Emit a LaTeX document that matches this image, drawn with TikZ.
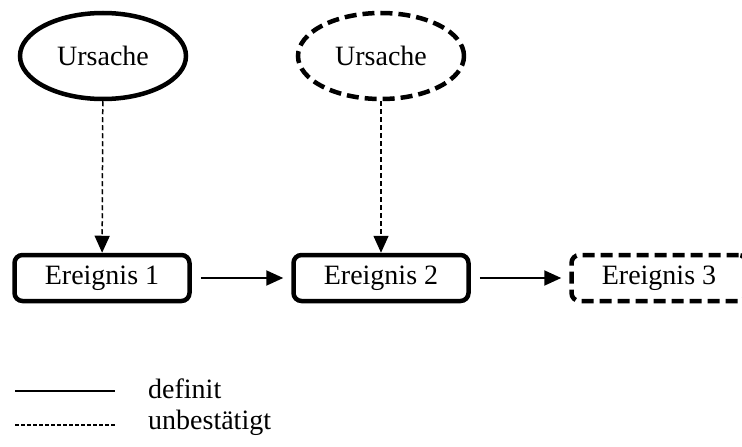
\documentclass[tikz,border=0pt]{standalone}
\usepackage{fontspec}
\setmainfont{Liberation Serif}
\usetikzlibrary{arrows.meta,shapes.geometric}
\begin{document}
\begin{tikzpicture}[x=1pt,y=-1pt,
  font=\fontsize{28}{31}\selectfont,
  cause/.style={ellipse,draw,line width=4.5pt,minimum width=166pt,minimum height=86pt,inner sep=0pt},
  event/.style={rectangle,rounded corners=8pt,draw,line width=4.5pt,minimum width=175pt,minimum height=46pt,inner sep=0pt},
  unsure/.style={dash pattern=on 12pt off 6pt},
  solidarrow/.style={-{Triangle[length=17pt,width=15pt]},line width=2pt},
  dasharrow/.style={-{Triangle[length=17pt,width=15pt]},line width=1.5pt,dash pattern=on 5pt off 3pt}
]
\useasboundingbox (0,0) rectangle (742,447);
\node[cause] (u1) at (103,56) {Ursache};
\node[cause,unsure] (u2) at (381,56) {Ursache};
\node[event] (e1) at (102,278) {Ereignis 1};
\node[event] (e2) at (381,278) {Ereignis 2};
\node[event,unsure] (e3) at (659,278) {Ereignis 3};
\draw[dasharrow] (u1) -- (e1);
\draw[dasharrow] (u2) -- (e2);
\draw[solidarrow] ([xshift=9pt]e1.east) -- ([xshift=-8pt]e2.west);
\draw[solidarrow] ([xshift=9pt]e2.east) -- ([xshift=-8pt]e3.west);
\coordinate (l1a) at (15,391);
\coordinate (l1b) at (115,391);
\coordinate (l2a) at (15,425);
\coordinate (l2b) at (115,425);
\draw[line width=1.4pt] (l1a) -- (l1b);
\draw[line width=1.2pt,dash pattern=on 4pt off 2pt] (l2a) -- (l2b);
\node[anchor=west,inner sep=0pt] (d) at (148,389) {definit};
\node[anchor=west,inner sep=0pt] (ub) at (148,423) {unbestätigt};
\end{tikzpicture}
\end{document}
